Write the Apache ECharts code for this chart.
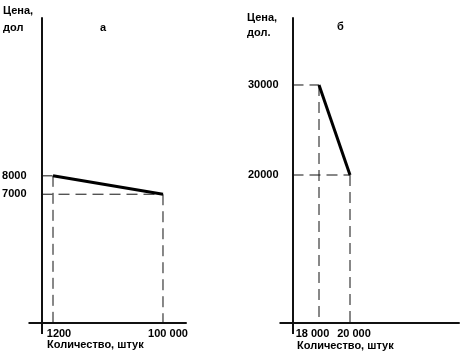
<!DOCTYPE html>
<html><head><meta charset="utf-8">
<script src="https://cdn.jsdelivr.net/npm/echarts@6/dist/echarts.min.js"></script>
<style>html,body{margin:0;padding:0;background:#fff}#c{width:476px;height:358px}</style>
</head><body><div id="c"></div>
<script>
// Chart а
const qtyA = [1200, 100000];
const priceA = [8000, 7000];
const xLabelsA = ['1200', '100 000'];
const yLabelsA = ['8000', '7000'];
// Chart б
const qtyB = [18000, 20000];
const priceB = [30000, 20000];
const xLabelsB = ['18 000', '20 000'];
const yLabelsB = ['30000', '20000'];

const FONT = 'Arial, "Liberation Sans", sans-serif';
const axA = {xMin: -9130, xMax: 120660, yMin: 0, yMax: 16580};
const axB = {xMin: 16290, xMax: 27032, yMin: 3556, yMax: 37444};

const chart = echarts.init(document.getElementById('c'));

function xAxisFor(idx, ax, vals, labels, pads) {
  const rich = {};
  labels.forEach((l, i) => { rich['p' + i] = {padding: pads[i], fontSize: 11, fontWeight: 'bold', fontFamily: FONT, color: '#000'}; });
  return {
    type: 'value', gridIndex: idx, min: ax.xMin, max: ax.xMax,
    axisLine: {show: true, onZero: false, lineStyle: {color: '#111', width: 2}},
    axisTick: {show: true, customValues: [ax.xMin], length: 11, inside: false, lineStyle: {color: '#111', width: 2}},
    splitLine: {show: false},
    axisLabel: {
      customValues: vals, margin: 5,
      formatter: v => { const i = vals.indexOf(v); return '{p' + i + '|' + labels[i] + '}'; },
      rich: rich
    }
  };
}
function yAxisFor(idx, ax, vals, labels, margin) {
  return {
    type: 'value', gridIndex: idx, min: ax.yMin, max: ax.yMax,
    axisLine: {show: true, onZero: false, lineStyle: {color: '#111', width: 2}},
    axisTick: {show: true, customValues: [ax.yMin], length: 13, inside: false, lineStyle: {color: '#111', width: 2}},
    splitLine: {show: false},
    axisLabel: {
      customValues: vals, margin: margin,
      formatter: v => labels[vals.indexOf(v)],
      fontSize: 11, fontWeight: 'bold', fontFamily: FONT, color: '#000'
    }
  };
}
const dash = {color: '#111', width: 1, type: [11, 6]};
function seriesFor(idx, ax, qty, price) {
  const out = [{
    type: 'line', xAxisIndex: idx, yAxisIndex: idx, symbol: 'none', silent: true,
    data: qty.map((q, i) => [q, price[i]]),
    lineStyle: {color: '#000', width: 3}, z: 5
  }];
  qty.forEach((q, i) => {
    out.push({type: 'line', xAxisIndex: idx, yAxisIndex: idx, symbol: 'none', silent: true,
      data: [[ax.xMin, price[i]], [q, price[i]]], lineStyle: dash});
    out.push({type: 'line', xAxisIndex: idx, yAxisIndex: idx, symbol: 'none', silent: true,
      data: [[q, price[i]], [q, ax.yMin]], lineStyle: dash});
  });
  return out;
}
const ts = (s, lh) => ({fontSize: 11, fontWeight: 'bold', fontFamily: FONT, color: '#000', lineHeight: lh || 14});

chart.setOption({
  animation: false,
  title: [
    {text: 'Цена,\nдол', left: 3, top: 2, padding: 0, textStyle: ts(11, 17)},
    {text: 'а', left: 100, top: 21, padding: 0, textStyle: ts(11)},
    {text: 'Цена,\nдол.', left: 247, top: 10, padding: 0, textStyle: ts(11, 15)},
    {text: 'б', left: 337, top: 20, padding: 0, textStyle: ts(11)},
    {text: 'Количество, штук', left: 47, top: 338, padding: 0, textStyle: ts(11)},
    {text: 'Количество, штук', left: 297, top: 339, padding: 0, textStyle: ts(11)}
  ],
  grid: [
    {left: 41.5, top: 18, width: 144.5, height: 305, outerBoundsMode: 'none', containLabel: false},
    {left: 292.5, top: 18, width: 166.5, height: 305, outerBoundsMode: 'none', containLabel: false}
  ],
  xAxis: [
    xAxisFor(0, axA, qtyA, xLabelsA, [[0, 0, 0, 12], [0, 0, 0, 10]]),
    xAxisFor(1, axB, qtyB, xLabelsB, [[0, 13, 0, 0], [0, 0, 0, 8]])
  ],
  yAxis: [
    yAxisFor(0, axA, priceA, yLabelsA, 15),
    yAxisFor(1, axB, priceB, yLabelsB, 14)
  ],
  series: seriesFor(0, axA, qtyA, priceA).concat(seriesFor(1, axB, qtyB, priceB))
});
</script></body></html>
